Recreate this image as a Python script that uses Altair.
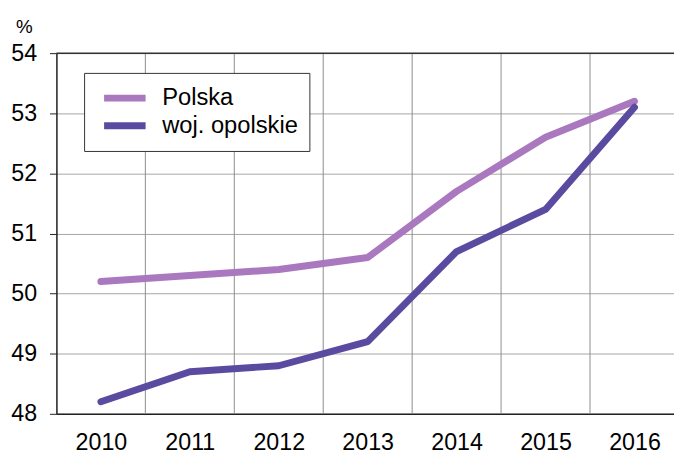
import altair as alt
import pandas as pd

years = [2010, 2011, 2012, 2013, 2014, 2015, 2016]
polska = [50.2, 50.3, 50.4, 50.6, 51.7, 52.6, 53.2]
opolskie = [48.2, 48.7, 48.8, 49.2, 50.7, 51.4, 53.1]
series_names = ["Polska", "woj. opolskie"]
series_colors = ["#aa78be", "#5a4ba0"]
y_ticks = [48, 49, 50, 51, 52, 53, 54]

df = pd.DataFrame({
    "year": years * 2,
    "value": polska + opolskie,
    "series": [series_names[0]] * len(years) + [series_names[1]] * len(years),
})
grid_df = pd.DataFrame({"year": [y + 0.5 for y in years[:-1]]})
top_df = pd.DataFrame({"value": [y_ticks[-1]]})

FONT = "Liberation Sans"
xscale = alt.Scale(domain=[years[0] - 0.5, years[-1] + 0.5], nice=False, zero=False)
yscale = alt.Scale(domain=[y_ticks[0], y_ticks[-1]], nice=False, zero=False)

xaxis = alt.Axis(values=years, format="d", grid=False, ticks=False,
                 domainColor="#222222", domainWidth=1.5,
                 labelFontSize=23.5, labelPadding=17, labelColor="black",
                 labelFont=FONT, title=None)
yaxis = alt.Axis(values=y_ticks, grid=True, gridColor="#a6a6a6", gridWidth=1,
                 tickSize=7, tickColor="#222222", domainColor="#222222",
                 domainWidth=1.5, labelFontSize=23.5, labelPadding=13,
                 labelColor="black", labelFont=FONT,
                 title="%", titleAngle=0, titleX=-33, titleY=-27,
                 titleAlign="center", titleBaseline="middle",
                 titleFontSize=19, titleFontWeight="normal",
                 titleFont=FONT, titleColor="black")

vgrid = alt.Chart(grid_df).mark_rule(color="#8c8c8c", strokeWidth=1).encode(
    x=alt.X("year:Q", scale=xscale, axis=xaxis)
)
topline = alt.Chart(top_df).mark_rule(color="#333333", strokeWidth=1.5).encode(
    y=alt.Y("value:Q", scale=yscale, axis=yaxis)
)

lines = alt.Chart(df).mark_line(strokeWidth=7, strokeCap="round", strokeJoin="round").encode(
    x=alt.X("year:Q", scale=xscale, axis=xaxis),
    y=alt.Y("value:Q", scale=yscale, axis=yaxis),
    color=alt.Color("series:N",
                    scale=alt.Scale(domain=series_names, range=series_colors),
                    legend=alt.Legend(title=None, orient="none", legendX=28, legendY=20,
                                      strokeColor="#333333", fillColor="white",
                                      padding=11.5, rowPadding=0,
                                      symbolType="M-0.5,0L3.5,0", symbolSize=441,
                                      symbolStrokeWidth=7, labelOffset=39.5,
                                      labelFontSize=24, labelFont=FONT,
                                      labelColor="black")),
)

chart = alt.layer(vgrid, topline, lines).properties(
    width=630, height=365,
    autosize=alt.AutoSizeParams(type="none"),
    padding={"left": 49, "top": 43, "right": -5, "bottom": 38},
).configure_view(stroke=None).configure(font=FONT)

chart.save("out.html", embed_options={"renderer": "svg", "actions": False})
